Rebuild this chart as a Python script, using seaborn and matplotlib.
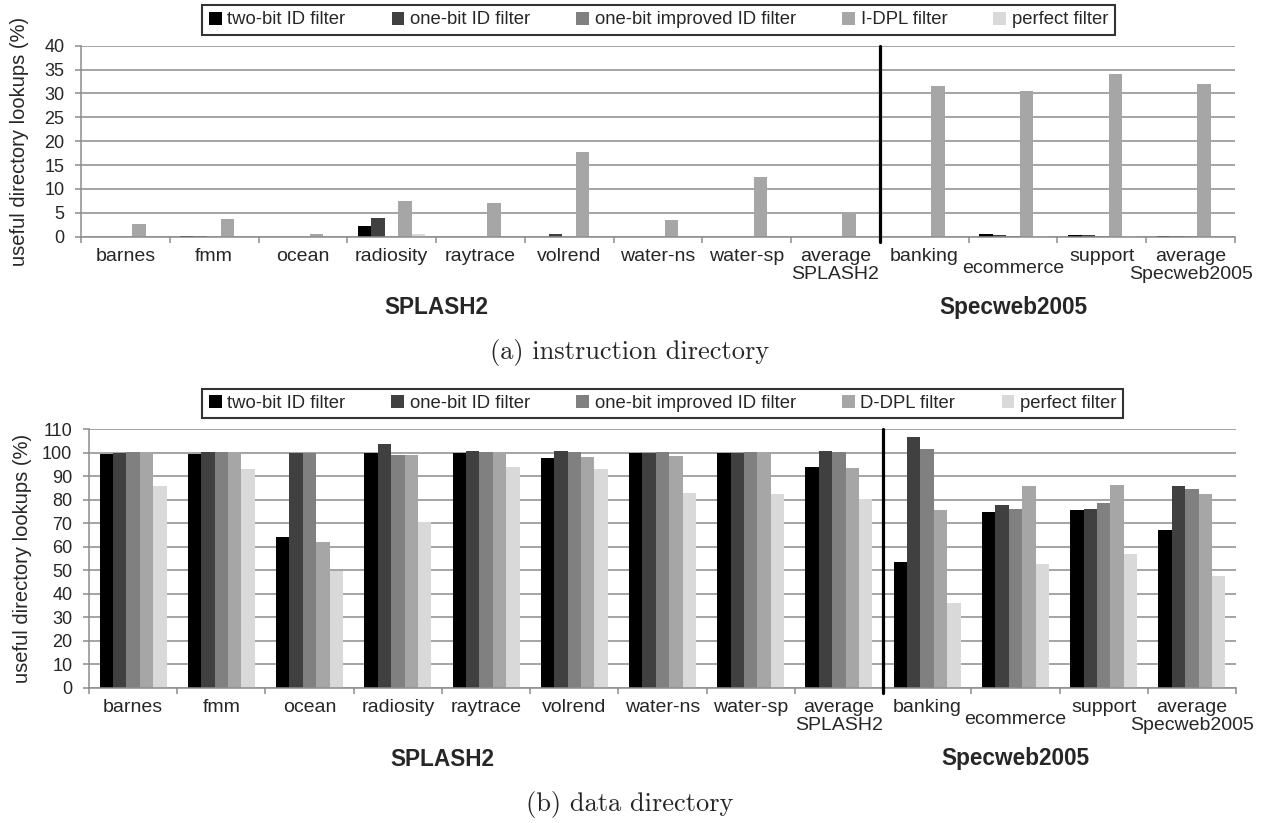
import numpy as np
import pandas as pd
import matplotlib
matplotlib.use("Agg")
import matplotlib.pyplot as plt
import matplotlib.transforms as mtransforms
import seaborn as sns

# ---------------- data ----------------
categories = ["barnes", "fmm", "ocean", "radiosity", "raytrace", "volrend",
              "water-ns", "water-sp", "average\nSPLASH2", "banking",
              "ecommerce", "support", "average\nSpecweb2005"]
groups = ["SPLASH2", "Specweb2005"]

instr_filters = ["two-bit ID filter", "one-bit ID filter",
                 "one-bit improved ID filter", "I-DPL filter", "perfect filter"]
data_filters = ["two-bit ID filter", "one-bit ID filter",
                "one-bit improved ID filter", "D-DPL filter", "perfect filter"]

# (a) instruction directory
instr_two_bit  = [0.0, 0.2, 0.0, 2.3, 0.0, 0.0, 0.0, 0.0, 0.0, 0.0, 0.5, 0.4, 0.1]
instr_one_bit  = [0.0, 0.2, 0.0, 4.0, 0.0, 0.6, 0.0, 0.0, 0.0, 0.0, 0.4, 0.3, 0.1]
instr_improved = [0.0, 0.0, 0.0, 0.0, 0.0, 0.0, 0.0, 0.0, 0.0, 0.0, 0.2, 0.2, 0.05]
instr_dpl      = [2.7, 3.7, 0.6, 7.4, 7.0, 17.7, 3.6, 12.6, 4.7, 31.6, 30.6, 34.0, 32.0]
instr_perfect  = [0.0, 0.0, 0.0, 0.6, 0.0, 0.0, 0.0, 0.0, 0.0, 0.0, 0.1, 0.1, 0.0]

# (b) data directory
data_two_bit  = [99.3, 99.5, 64.0, 99.8, 99.8, 97.8, 100.0, 99.7, 94.0, 53.5, 74.8, 75.8, 67.0]
data_one_bit  = [100.0, 100.2, 100.0, 103.5, 100.8, 100.7, 100.0, 100.0, 100.8, 106.7, 77.6, 76.1, 85.6]
data_improved = [100.2, 100.2, 100.0, 99.0, 100.3, 100.2, 100.2, 100.2, 100.2, 101.6, 76.2, 78.6, 84.6]
data_dpl      = [99.5, 99.5, 61.8, 99.0, 99.5, 98.2, 98.5, 100.2, 93.5, 75.6, 85.6, 86.3, 82.3]
data_perfect  = [85.7, 93.0, 49.5, 70.7, 94.0, 93.2, 83.0, 82.2, 80.2, 36.2, 52.7, 56.9, 47.5]

colors = ["#000000", "#404040", "#808080", "#a6a6a6", "#d9d9d9"]

instr_series = [instr_two_bit, instr_one_bit, instr_improved, instr_dpl, instr_perfect]
data_series = [data_two_bit, data_one_bit, data_improved, data_dpl, data_perfect]


def long_frame(names, series):
    rows = []
    for name, vals in zip(names, series):
        for cat, v in zip(categories, vals):
            rows.append({"benchmark": cat, "filter": name, "value": v})
    return pd.DataFrame(rows)


df_instr = long_frame(instr_filters, instr_series)
df_data = long_frame(data_filters, data_series)

# ---------------- style ----------------
sns.set_theme(style="white")
plt.rcParams["font.family"] = ["Liberation Sans", "DejaVu Sans"]

W, H = 1270, 823
fig = plt.figure(figsize=(W / 100, H / 100), dpi=100)

GRID = "#8c8c8c"
PT = 0.72  # points per pixel at 100 dpi


def px_axes(left, top, right, bottom):
    return fig.add_axes([left / W, 1 - bottom / H, (right - left) / W, (bottom - top) / H])


def draw_panel(ax, df, hue_order, ymax, ystep, legend_center, sep_below_frac,
               caption, caption_y):
    sns.barplot(data=df, x="benchmark", y="value", hue="filter",
                order=categories, hue_order=hue_order, palette=colors,
                saturation=1, width=0.76, gap=0, errorbar=None,
                linewidth=0, ax=ax, legend=True)
    ax.set_xlim(-0.5, len(categories) - 0.5)
    ax.set_ylim(0, ymax)
    ax.set_yticks(np.arange(0, ymax + 0.1, ystep))
    ax.tick_params(axis="y", labelsize=13, length=4, width=1.1, color=GRID,
                   pad=8, left=True)
    ax.yaxis.grid(True, color=GRID, linewidth=1.1)
    ax.set_axisbelow(True)
    for s in ["top", "right"]:
        ax.spines[s].set_visible(False)
    for s in ["left", "bottom"]:
        ax.spines[s].set_color(GRID)
        ax.spines[s].set_linewidth(1.1)

    # category boundary tick marks
    ax.set_xticks([])
    ax.set_xticks(np.arange(-0.5, len(categories), 1), minor=True)
    ax.tick_params(axis="x", which="minor", length=4, width=1.1, color=GRID,
                   bottom=True, labelbottom=False)
    ax.set_xlabel("")
    ax.set_ylabel("useful directory lookups (%)", fontsize=14.5)

    # category labels
    for i, cat in enumerate(categories):
        off = -23 if cat == "ecommerce" else -11
        tr = mtransforms.offset_copy(ax.get_xaxis_transform(), fig=fig,
                                     y=off * PT, units="points")
        ax.text(i, 0, cat, transform=tr, ha="center", va="top", fontsize=14,
                linespacing=1.1)

    # group labels
    tr = mtransforms.offset_copy(ax.get_xaxis_transform(), fig=fig,
                                 y=-71 * PT, units="points")
    ax.text(3.5, 0, groups[0], transform=tr, ha="center", va="center",
            fontsize=16.3, fontweight="bold")
    ax.text(10.0, 0, groups[1], transform=tr, ha="center", va="center",
            fontsize=16.3, fontweight="bold")

    # separator line between suites
    ax.axvline(8.5, ymin=-sep_below_frac, ymax=1, color="black", lw=2.3,
               clip_on=False, zorder=5)

    sns.move_legend(ax, "center", bbox_to_anchor=legend_center,
                    bbox_transform=fig.transFigure, ncol=5, title=None,
                    frameon=True, fancybox=False, edgecolor="black",
                    fontsize=13.3, handlelength=0.7, handleheight=0.7,
                    handletextpad=0.3, columnspacing=2.5, borderpad=0.35)
    leg = ax.get_legend()
    leg.get_frame().set_linewidth(1.5)

    fig.text(630 / W, 1 - caption_y / H, caption, family="cmr10", fontsize=19,
             ha="center", va="center")


ax1 = px_axes(81, 45.7, 1235, 236.7)
draw_panel(ax1, df_instr, instr_filters, 40, 5, (658.5 / W, 1 - 20 / H),
           5 / 191, "(a) instruction directory", 353)
ax1.yaxis.set_label_coords((29 - 81) / 1154, 0.5)

ax2 = px_axes(89, 429, 1236, 688)
draw_panel(ax2, df_data, data_filters, 110, 10, (662.5 / W, 1 - 403.5 / H),
           5 / 259, "(b) data directory", 804)
ax2.yaxis.set_label_coords((32 - 89) / 1147, 0.5)

fig.savefig("out.png", dpi=100)
